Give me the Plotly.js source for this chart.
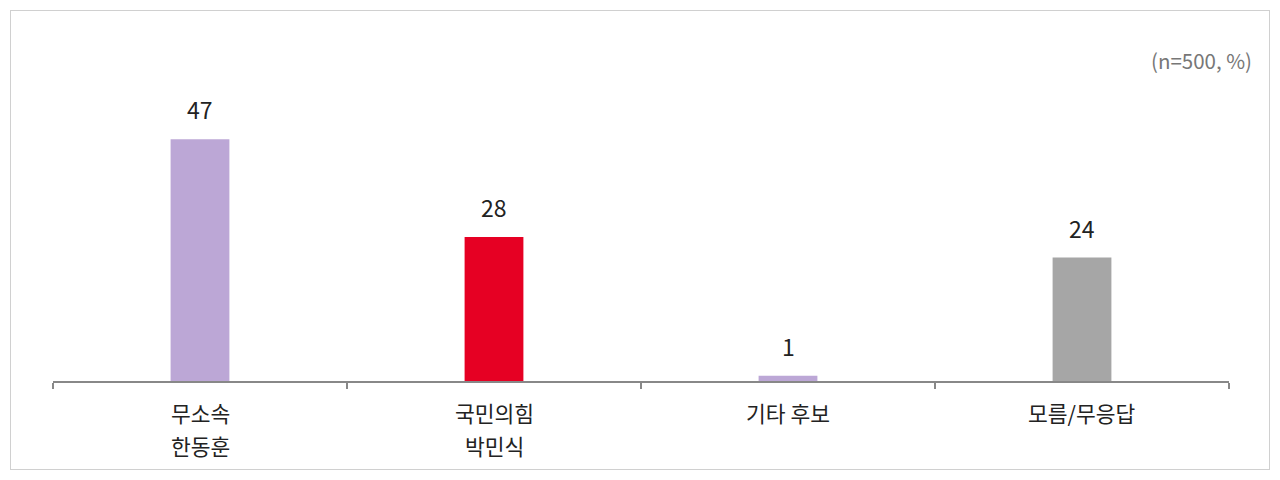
<!DOCTYPE html>
<html>
<head>
<meta charset="utf-8">
<script src="https://cdn.plot.ly/plotly-3.0.1.min.js"></script>
<style>
  html, body { margin: 0; padding: 0; background: #fff; }
  #chart { position: absolute; left: 10px; top: 10px; width: 1258px; height: 458px; border: 1px solid #d0d0d0; }
</style>
</head>
<body>
<div id="chart"></div>
<script>
const categories = ['무소속 한동훈', '국민의힘 박민식', '기타 후보', '모름/무응답'];
const labelLine1 = ['무소속', '국민의힘', '기타 후보', '모름/무응답'];
const labelLine2 = ['한동훈', '박민식', '', ''];
const values = [47, 28, 1, 24];
const barColors = ['#bca7d6', '#e60023', '#bca7d6', '#a6a6a6'];
const noteText = '(n=500, %)';

const font = 'Noto Sans CJK KR, Noto Sans, sans-serif';

const trace = {
  type: 'bar',
  x: categories,
  y: values,
  marker: { color: barColors, line: { width: 0 } },
  hoverinfo: 'none'
};

const annotations = categories.map((c, i) => ({
  x: c, y: values[i], xref: 'x', yref: 'y',
  text: String(values[i]), showarrow: false,
  yanchor: 'bottom', yshift: 11,
  font: { family: font, size: 23, color: '#222' }
}));
categories.forEach((c, i) => {
  [labelLine1[i], labelLine2[i]].forEach((t, k) => {
    if (!t) return;
    annotations.push({
      x: c, y: 0, xref: 'x', yref: 'y',
      text: t, showarrow: false,
      yanchor: 'middle', yshift: -31.5 - 33 * k,
      font: { family: font, size: 21.5, color: '#222' }
    });
  });
});
annotations.push({
  xref: 'paper', yref: 'paper', x: 1.021, y: 1.134,
  xanchor: 'right', yanchor: 'middle',
  text: noteText, showarrow: false,
  font: { family: font, size: 20.5, color: '#777' }
});

const layout = {
  width: 1258, height: 458,
  margin: { l: 42, r: 40, t: 87, b: 88 },
  paper_bgcolor: '#fff', plot_bgcolor: '#fff',
  showlegend: false,
  bargap: 0.8,
  xaxis: {
    type: 'category',
    showline: true, linecolor: '#888', linewidth: 2,
    ticks: 'outside', tickson: 'boundaries', ticklen: 6, tickcolor: '#888', tickwidth: 2,
    showticklabels: false,
    showgrid: false, zeroline: false, fixedrange: true
  },
  yaxis: {
    range: [0, 55], visible: false, showgrid: false, zeroline: false, fixedrange: true
  },
  annotations: annotations
};

Plotly.newPlot('chart', [trace], layout, { staticPlot: true, displayModeBar: false });
</script>
</body>
</html>
